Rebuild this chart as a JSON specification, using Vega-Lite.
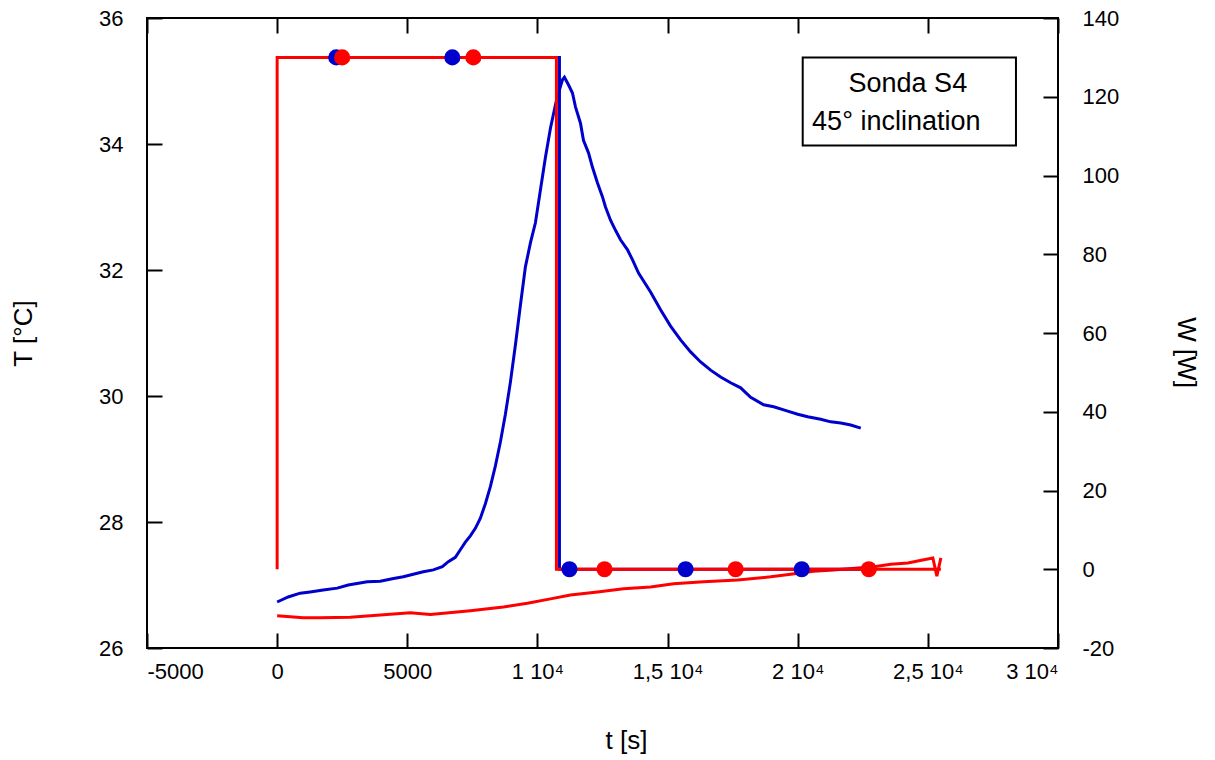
{
  "$schema": "https://vega.github.io/schema/vega-lite/v6.json",
  "width": 911,
  "height": 630,
  "autosize": {"type": "none"},
  "padding": {"left": 147, "top": 18, "right": 157, "bottom": 112},
  "background": "white",
  "config": {
    "font": "Liberation Sans",
    "view": {"stroke": "black", "strokeWidth": 2},
    "axis": {"grid": false, "domain": false, "labelColor": "black", "labelFontSize": 22, "tickColor": "black", "tickWidth": 2, "tickSize": -15, "titleColor": "black", "titleFontWeight": "normal", "titleFontSize": 26}
  },
  "datasets": {
    "blueT": [
      {"i": 0, "t": 0, "T": 26.73}, {"i": 1, "t": 423, "T": 26.81}, {"i": 2, "t": 885, "T": 26.87}, {"i": 3, "t": 1269, "T": 26.89},
      {"i": 4, "t": 1769, "T": 26.92}, {"i": 5, "t": 2308, "T": 26.95}, {"i": 6, "t": 2731, "T": 27.0}, {"i": 7, "t": 3462, "T": 27.05},
      {"i": 8, "t": 3962, "T": 27.06}, {"i": 9, "t": 4423, "T": 27.1}, {"i": 10, "t": 4846, "T": 27.13}, {"i": 11, "t": 5231, "T": 27.17},
      {"i": 12, "t": 5615, "T": 27.21}, {"i": 13, "t": 6000, "T": 27.24}, {"i": 14, "t": 6346, "T": 27.29}, {"i": 15, "t": 6577, "T": 27.37},
      {"i": 16, "t": 6846, "T": 27.44}, {"i": 17, "t": 7038, "T": 27.56}, {"i": 18, "t": 7231, "T": 27.68}, {"i": 19, "t": 7423, "T": 27.78},
      {"i": 20, "t": 7615, "T": 27.9}, {"i": 21, "t": 7808, "T": 28.06}, {"i": 22, "t": 8000, "T": 28.29}, {"i": 23, "t": 8192, "T": 28.56},
      {"i": 24, "t": 8385, "T": 28.89}, {"i": 25, "t": 8577, "T": 29.27}, {"i": 26, "t": 8769, "T": 29.71}, {"i": 27, "t": 8962, "T": 30.22},
      {"i": 28, "t": 9154, "T": 30.81}, {"i": 29, "t": 9346, "T": 31.44}, {"i": 30, "t": 9538, "T": 32.05}, {"i": 31, "t": 9731, "T": 32.43},
      {"i": 32, "t": 9923, "T": 32.75}, {"i": 33, "t": 10115, "T": 33.27}, {"i": 34, "t": 10308, "T": 33.79}, {"i": 35, "t": 10500, "T": 34.25},
      {"i": 36, "t": 10692, "T": 34.62}, {"i": 37, "t": 10808, "T": 34.81}, {"i": 38, "t": 10962, "T": 35.02}, {"i": 39, "t": 11038, "T": 35.06},
      {"i": 40, "t": 11192, "T": 34.94}, {"i": 41, "t": 11346, "T": 34.81}, {"i": 42, "t": 11462, "T": 34.59}, {"i": 43, "t": 11654, "T": 34.33},
      {"i": 44, "t": 11769, "T": 34.06}, {"i": 45, "t": 11962, "T": 33.86}, {"i": 46, "t": 12115, "T": 33.63}, {"i": 47, "t": 12308, "T": 33.38},
      {"i": 48, "t": 12500, "T": 33.16}, {"i": 49, "t": 12615, "T": 33.0}, {"i": 50, "t": 12808, "T": 32.79}, {"i": 51, "t": 13000, "T": 32.63},
      {"i": 52, "t": 13192, "T": 32.48}, {"i": 53, "t": 13462, "T": 32.32}, {"i": 54, "t": 13654, "T": 32.16}, {"i": 55, "t": 13885, "T": 31.95},
      {"i": 56, "t": 14346, "T": 31.65}, {"i": 57, "t": 14731, "T": 31.37}, {"i": 58, "t": 15115, "T": 31.11}, {"i": 59, "t": 15500, "T": 30.89},
      {"i": 60, "t": 15885, "T": 30.7}, {"i": 61, "t": 16269, "T": 30.54}, {"i": 62, "t": 16654, "T": 30.41}, {"i": 63, "t": 17038, "T": 30.3},
      {"i": 64, "t": 17423, "T": 30.21}, {"i": 65, "t": 17808, "T": 30.13}, {"i": 66, "t": 18192, "T": 29.98}, {"i": 67, "t": 18692, "T": 29.86},
      {"i": 68, "t": 19077, "T": 29.83}, {"i": 69, "t": 19615, "T": 29.76}, {"i": 70, "t": 20000, "T": 29.71}, {"i": 71, "t": 20385, "T": 29.67},
      {"i": 72, "t": 20885, "T": 29.63}, {"i": 73, "t": 21269, "T": 29.59}, {"i": 74, "t": 21654, "T": 29.57}, {"i": 75, "t": 22038, "T": 29.54},
      {"i": 76, "t": 22423, "T": 29.49}
    ],
    "redT": [
      {"i": 0, "t": 0, "T": 26.51}, {"i": 1, "t": 1000, "T": 26.48}, {"i": 2, "t": 1654, "T": 26.48}, {"i": 3, "t": 2808, "T": 26.49},
      {"i": 4, "t": 5115, "T": 26.56}, {"i": 5, "t": 5885, "T": 26.53}, {"i": 6, "t": 7423, "T": 26.59}, {"i": 7, "t": 8692, "T": 26.65},
      {"i": 8, "t": 9615, "T": 26.71}, {"i": 9, "t": 10500, "T": 26.78}, {"i": 10, "t": 11269, "T": 26.84}, {"i": 11, "t": 12308, "T": 26.89},
      {"i": 12, "t": 13308, "T": 26.94}, {"i": 13, "t": 14346, "T": 26.97}, {"i": 14, "t": 15231, "T": 27.02}, {"i": 15, "t": 16385, "T": 27.05},
      {"i": 16, "t": 17692, "T": 27.08}, {"i": 17, "t": 18962, "T": 27.13}, {"i": 18, "t": 19731, "T": 27.17}, {"i": 19, "t": 20615, "T": 27.22},
      {"i": 20, "t": 21385, "T": 27.24}, {"i": 21, "t": 22308, "T": 27.27}, {"i": 22, "t": 22923, "T": 27.29}, {"i": 23, "t": 23577, "T": 27.33},
      {"i": 24, "t": 24231, "T": 27.35}, {"i": 25, "t": 24846, "T": 27.4}, {"i": 26, "t": 25192, "T": 27.43}, {"i": 27, "t": 25346, "T": 27.14},
      {"i": 28, "t": 25500, "T": 27.43}
    ],
    "blueW": [
      {"i": 0, "t": 0, "W": 130}, {"i": 1, "t": 10846, "W": 130}, {"i": 2, "t": 10846, "W": 0}, {"i": 3, "t": 22423, "W": 0}
    ],
    "redW": [
      {"i": 0, "t": 0, "W": 0}, {"i": 1, "t": 0, "W": 130}, {"i": 2, "t": 10730, "W": 130}, {"i": 3, "t": 10730, "W": 0}, {"i": 4, "t": 25500, "W": 0}
    ],
    "blueM": [
      {"t": 2269, "W": 130}, {"t": 6731, "W": 130}, {"t": 11230, "W": 0}, {"t": 15692, "W": 0}, {"t": 20154, "W": 0}
    ],
    "redM": [
      {"t": 2500, "W": 130}, {"t": 7538, "W": 130}, {"t": 12577, "W": 0}, {"t": 17615, "W": 0}, {"t": 22731, "W": 0}
    ],
    "box": [{"label": "Sonda S4"}]
  },
  "layer": [
    {
      "layer": [
        {"data": {"name": "redT"}, "mark": {"type": "line", "color": "#ff0000", "strokeWidth": 3},
          "encoding": {
            "x": {"field": "t", "type": "quantitative", "scale": {"domain": [-5000, 30000], "nice": false, "zero": false},
              "axis": {"orient": "bottom", "values": [-5000, 0, 5000, 10000, 15000, 20000, 25000, 30000], "labelPadding": 28,
                "labelExpr": "datum.value == 0 ? '0' : abs(datum.value) < 10000 ? replace(format(datum.value, 'd'), '\u2212', '-') : replace(format(datum.value / 10000, '.1~f'), '.', ',') + ' 10\u2074'",
                "title": "t [s]", "titleX": 479, "titleY": 92, "titleBaseline": "middle"}},
            "y": {"field": "T", "type": "quantitative", "scale": {"domain": [26, 36], "nice": false, "zero": false},
              "axis": {"orient": "left", "values": [26, 28, 30, 32, 34, 36], "format": "d", "labelPadding": 39, "title": "T [°C]", "titleX": -124, "titleAngle": -90, "titleBaseline": "middle"}},
            "order": {"field": "i"}}},
        {"data": {"name": "blueT"}, "mark": {"type": "line", "color": "#0000cc", "strokeWidth": 3},
          "encoding": {
            "x": {"field": "t", "type": "quantitative"},
            "y": {"field": "T", "type": "quantitative"},
            "order": {"field": "i"}}}
      ]
    },
    {
      "layer": [
        {"data": {"name": "blueW"}, "mark": {"type": "line", "color": "#0000cc", "strokeWidth": 3},
          "encoding": {
            "x": {"field": "t", "type": "quantitative", "scale": {"domain": [-5000, 30000], "nice": false, "zero": false},
              "axis": {"orient": "top", "values": [-5000, 0, 5000, 10000, 15000, 20000, 25000, 30000], "labels": false, "title": null}},
            "y": {"field": "W", "type": "quantitative", "scale": {"domain": [-20, 140], "nice": false, "zero": false},
              "axis": {"orient": "right", "values": [-20, 0, 20, 40, 60, 80, 100, 120, 140], "labelPadding": 39,
                "labelExpr": "replace(datum.label, '\u2212', '-')",
                "title": "W [W]", "titleX": 127, "titleY": 334, "titleAngle": 90, "titleBaseline": "middle"}},
            "order": {"field": "i"}}},
        {"data": {"name": "redW"}, "mark": {"type": "line", "color": "#ff0000", "strokeWidth": 3},
          "encoding": {"x": {"field": "t", "type": "quantitative"}, "y": {"field": "W", "type": "quantitative"}, "order": {"field": "i"}}},
        {"data": {"name": "blueM"}, "mark": {"type": "point", "shape": "circle", "filled": true, "opacity": 1, "size": 260, "color": "#0000cc"},
          "encoding": {"x": {"field": "t", "type": "quantitative"}, "y": {"field": "W", "type": "quantitative"}}},
        {"data": {"name": "redM"}, "mark": {"type": "point", "shape": "circle", "filled": true, "opacity": 1, "size": 260, "color": "#ff0000"},
          "encoding": {"x": {"field": "t", "type": "quantitative"}, "y": {"field": "W", "type": "quantitative"}}},
        {"data": {"name": "box"}, "mark": {"type": "rect", "fill": "white", "stroke": "black", "strokeWidth": 2},
          "encoding": {"x": {"datum": 20192, "type": "quantitative"}, "x2": {"datum": 28385}, "y": {"datum": 130, "type": "quantitative"}, "y2": {"datum": 107.65}}},
        {"data": {"name": "box"}, "mark": {"type": "text", "fontSize": 27, "align": "center", "baseline": "alphabetic", "color": "black"},
          "encoding": {"text": {"field": "label"}, "x": {"datum": 24231, "type": "quantitative"}, "y": {"datum": 121.2, "type": "quantitative"}}},
        {"data": {"name": "box"}, "mark": {"type": "text", "text": "45° inclination", "fontSize": 27, "align": "center", "baseline": "alphabetic", "color": "black"},
          "encoding": {"x": {"datum": 23788, "type": "quantitative"}, "y": {"datum": 111.55, "type": "quantitative"}}}
      ]
    }
  ],
  "resolve": {"scale": {"y": "independent"}}
}
